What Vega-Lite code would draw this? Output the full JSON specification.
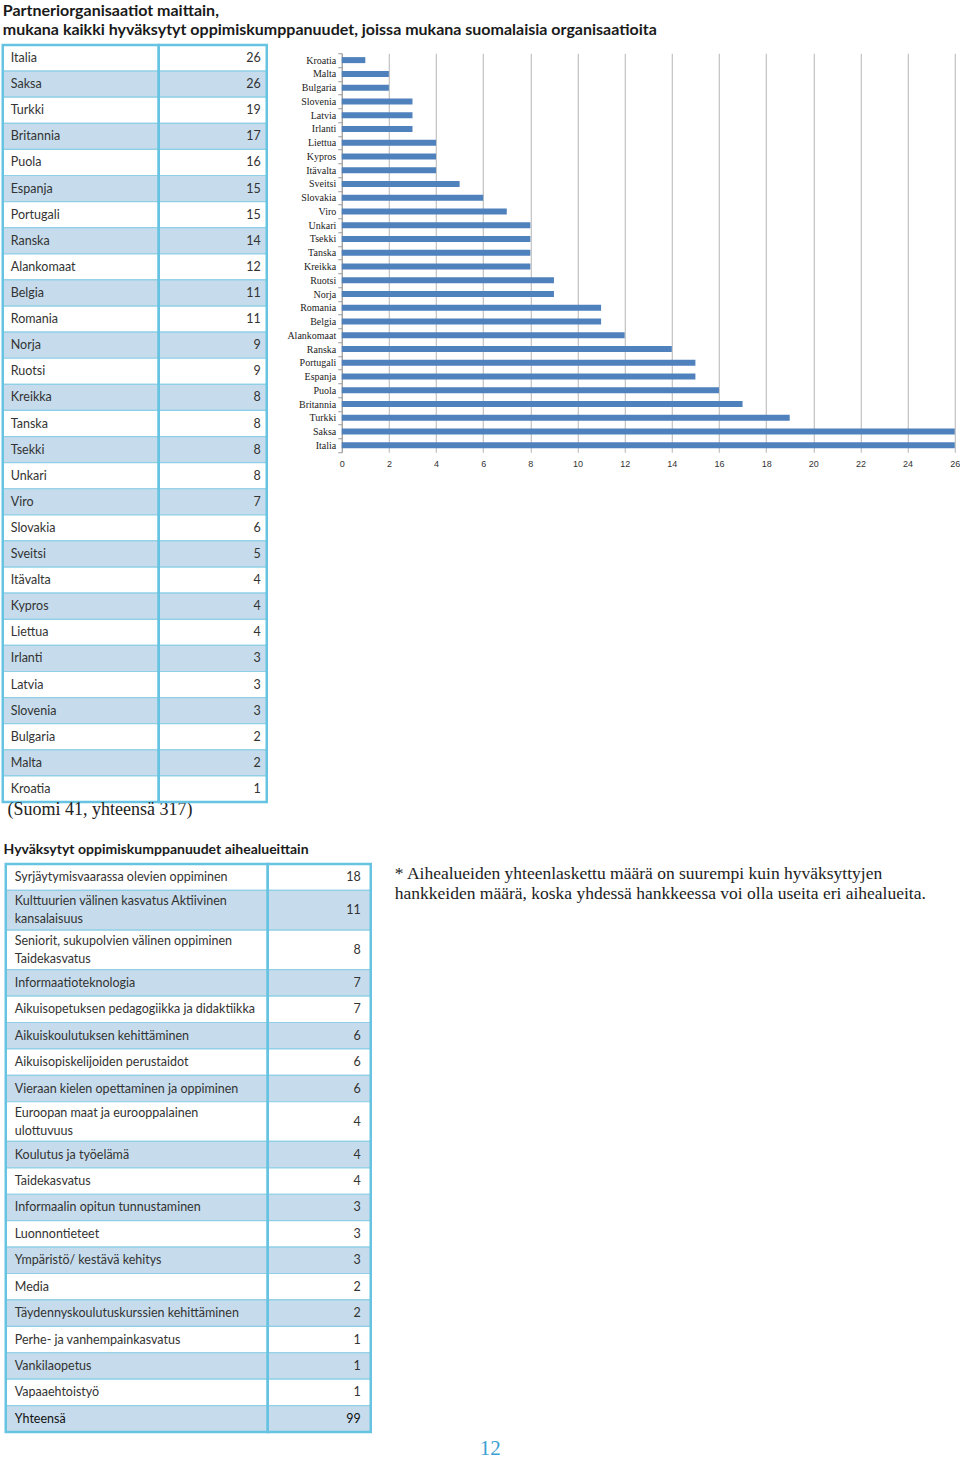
{
  "$schema": "https://vega.github.io/schema/vega-lite/v6.json",
  "padding": {"left": 0.75, "top": 2, "right": 0, "bottom": 0},
  "autosize": {"type": "pad"},
  "background": "white",
  "config": {
    "view": {"stroke": null},
    "font": "Lato",
    "text": {"font": "Lato", "fontSize": 12.5, "color": "#333333"}
  },
  "title": {
    "text": ["Partneriorganisaatiot maittain,", "mukana kaikki hyväksytyt oppimiskumppanuudet, joissa mukana suomalaisia organisaatioita"],
    "anchor": "start",
    "frame": "group",
    "font": "Lato",
    "fontSize": 16,
    "fontWeight": "bold",
    "color": "#1a1a1a",
    "lineHeight": 19.5,
    "offset": 1.5
  },
  "datasets": {
    "countries": [
      {"country": "Italia", "n": 26},
      {"country": "Saksa", "n": 26},
      {"country": "Turkki", "n": 19},
      {"country": "Britannia", "n": 17},
      {"country": "Puola", "n": 16},
      {"country": "Espanja", "n": 15},
      {"country": "Portugali", "n": 15},
      {"country": "Ranska", "n": 14},
      {"country": "Alankomaat", "n": 12},
      {"country": "Belgia", "n": 11},
      {"country": "Romania", "n": 11},
      {"country": "Norja", "n": 9},
      {"country": "Ruotsi", "n": 9},
      {"country": "Kreikka", "n": 8},
      {"country": "Tanska", "n": 8},
      {"country": "Tsekki", "n": 8},
      {"country": "Unkari", "n": 8},
      {"country": "Viro", "n": 7},
      {"country": "Slovakia", "n": 6},
      {"country": "Sveitsi", "n": 5},
      {"country": "Itävalta", "n": 4},
      {"country": "Kypros", "n": 4},
      {"country": "Liettua", "n": 4},
      {"country": "Irlanti", "n": 3},
      {"country": "Latvia", "n": 3},
      {"country": "Slovenia", "n": 3},
      {"country": "Bulgaria", "n": 2},
      {"country": "Malta", "n": 2},
      {"country": "Kroatia", "n": 1}
    ],
    "topics": [
      {"label": "Syrjäytymisvaarassa olevien oppiminen", "value": 18},
      {"label": "Kulttuurien välinen kasvatus Aktiivinen\nkansalaisuus", "value": 11},
      {"label": "Seniorit, sukupolvien välinen oppiminen\nTaidekasvatus", "value": 8},
      {"label": "Informaatioteknologia", "value": 7},
      {"label": "Aikuisopetuksen pedagogiikka ja didaktiikka", "value": 7},
      {"label": "Aikuiskoulutuksen kehittäminen", "value": 6},
      {"label": "Aikuisopiskelijoiden perustaidot", "value": 6},
      {"label": "Vieraan kielen opettaminen ja oppiminen", "value": 6},
      {"label": "Euroopan maat ja eurooppalainen\nulottuvuus", "value": 4},
      {"label": "Koulutus ja työelämä", "value": 4},
      {"label": "Taidekasvatus", "value": 4},
      {"label": "Informaalin opitun tunnustaminen", "value": 3},
      {"label": "Luonnontieteet", "value": 3},
      {"label": "Ympäristö/ kestävä kehitys", "value": 3},
      {"label": "Media", "value": 2},
      {"label": "Täydennyskoulutuskurssien kehittäminen", "value": 2},
      {"label": "Perhe- ja vanhempainkasvatus", "value": 1},
      {"label": "Vankilaopetus", "value": 1},
      {"label": "Vapaaehtoistyö", "value": 1},
      {"label": "Yhteensä", "value": 99}
    ],
    "footnote": [
      {"line": "* Aihealueiden yhteenlaskettu määrä on suurempi kuin hyväksyttyjen"},
      {"line": "hankkeiden määrä, koska yhdessä hankkeessa voi olla useita eri aihealueita."}
    ],
    "blank": [{"k": 1}]
  },
  "spacing": 22,
  "vconcat": [
    {
      "spacing": 18,
      "hconcat": [
        {
          "bounds": "flush",
          "spacing": 0,
          "hconcat": [
            {
              "width": 156,
              "height": 757,
              "title": {"text": "(Suomi 41, yhteensä 317)", "orient": "bottom", "anchor": "start", "dx": 6, "offset": -2, "font": "Liberation Serif", "fontSize": 18, "fontWeight": "normal", "color": "#222222"},
              "layer": [
                {
                  "data": {"name": "countries"},
                  "transform": [{"window": [{"op": "row_number", "as": "idx"}]}],
                  "mark": {"type": "rect", "stroke": "#8fd0e6", "strokeWidth": 1.2},
                  "encoding": {
                    "y": {"field": "country", "type": "nominal", "sort": null, "axis": null, "scale": {"paddingInner": 0, "paddingOuter": 0}},
                    "x": {"value": 0},
                    "x2": {"value": "width"},
                    "fill": {"condition": {"test": "datum.idx % 2 == 0", "value": "#c6dcec"}, "value": "#ffffff"}
                  }
                },
                {
                  "data": {"name": "countries"},
                  "mark": {"type": "text", "align": "left", "baseline": "middle", "dx": 8},
                  "encoding": {
                    "y": {"field": "country", "type": "nominal", "sort": null, "axis": null},
                    "x": {"value": 0},
                    "text": {"field": "country"}
                  }
                },
                {
                  "data": {"name": "blank"},
                  "mark": {"type": "rect", "fill": null, "fillOpacity": 0, "stroke": "#66c3e2", "strokeWidth": 2.5},
                  "encoding": {"x": {"value": 0}, "x2": {"value": "width"}, "y": {"value": 0}, "y2": {"value": "height"}}
                }
              ]
            },
            {
              "width": 108,
              "height": 757,
              "layer": [
                {
                  "data": {"name": "countries"},
                  "transform": [{"window": [{"op": "row_number", "as": "idx"}]}],
                  "mark": {"type": "rect", "stroke": "#8fd0e6", "strokeWidth": 1.2},
                  "encoding": {
                    "y": {"field": "country", "type": "nominal", "sort": null, "axis": null, "scale": {"paddingInner": 0, "paddingOuter": 0}},
                    "x": {"value": 0},
                    "x2": {"value": "width"},
                    "fill": {"condition": {"test": "datum.idx % 2 == 0", "value": "#c6dcec"}, "value": "#ffffff"}
                  }
                },
                {
                  "data": {"name": "countries"},
                  "mark": {"type": "text", "align": "right", "baseline": "middle", "dx": -6},
                  "encoding": {
                    "y": {"field": "country", "type": "nominal", "sort": null, "axis": null},
                    "x": {"value": "width"},
                    "text": {"field": "n"}
                  }
                },
                {
                  "data": {"name": "blank"},
                  "mark": {"type": "rect", "fill": null, "fillOpacity": 0, "stroke": "#66c3e2", "strokeWidth": 2.5},
                  "encoding": {"x": {"value": 0}, "x2": {"value": "width"}, "y": {"value": 0}, "y2": {"value": "height"}}
                }
              ]
            }
          ]
        },
        {
          "bounds": "flush",
          "spacing": 7.25,
          "vconcat": [
            {
              "width": 1,
              "height": 1,
              "data": {"name": "blank"},
              "mark": {"type": "text"},
              "encoding": {"text": {"value": ""}}
            },
            {
              "width": 613,
              "height": 399,
              "data": {"name": "countries"},
              "transform": [{"window": [{"op": "row_number", "as": "idx"}]}],
              "mark": {"type": "bar", "color": "#4f81bd", "size": 6},
              "encoding": {
                "x": {
                  "field": "n",
                  "type": "quantitative",
                  "scale": {"domain": [0, 26], "nice": false},
                  "axis": {"values": [0, 2, 4, 6, 8, 10, 12, 14, 16, 18, 20, 22, 24, 26], "title": null, "domain": false, "ticks": false, "grid": true, "gridColor": "#b5b5b5", "gridWidth": 1, "labelFont": "Liberation Sans", "labelFontSize": 9, "labelColor": "#333333", "labelPadding": 7, "labelFlush": false}
                },
                "y": {
                  "field": "country",
                  "type": "nominal",
                  "sort": {"field": "idx", "op": "min", "order": "descending"},
                  "scale": {"paddingInner": 0, "paddingOuter": 0},
                  "axis": {"title": null, "domainColor": "#9a9a9a", "tickColor": "#9a9a9a", "tickSize": 4, "tickBand": "extent", "labelFont": "Liberation Serif", "labelFontSize": 10, "labelColor": "#222222", "labelPadding": 2, "grid": false}
                }
              }
            }
          ]
        }
      ]
    },
    {
      "bounds": "flush",
      "spacing": 0,
      "hconcat": [
        {
          "width": 3,
          "height": 1,
          "data": {"name": "blank"},
          "mark": {"type": "text"},
          "encoding": {"text": {"value": ""}}
        },
        {
          "width": 262,
          "height": 568,
          "title": {"text": "Hyväksytyt oppimiskumppanuudet aihealueittain", "anchor": "start", "dx": -1, "offset": 6, "font": "Lato", "fontSize": 14, "fontWeight": "bold", "color": "#1a1a1a"},
          "layer": [
            {
              "data": {"name": "topics"},
              "transform": [
                {"window": [{"op": "row_number", "as": "idx"}]},
                {"calculate": "indexof(datum.label, '\\n') >= 0 ? 3 : 2", "as": "units"},
                {"window": [{"op": "sum", "field": "units", "as": "end"}], "frame": [null, 0]},
                {"calculate": "datum.end - datum.units", "as": "start"}
              ],
              "mark": {"type": "rect", "stroke": "#8fd0e6", "strokeWidth": 1.2},
              "encoding": {
                "y": {"field": "start", "type": "quantitative", "axis": null, "scale": {"reverse": true, "nice": false, "zero": true}},
                "y2": {"field": "end"},
                "x": {"value": 0},
                "x2": {"value": "width"},
                "fill": {"condition": {"test": "datum.idx % 2 == 0", "value": "#c6dcec"}, "value": "#ffffff"}
              }
            },
            {
              "data": {"name": "topics"},
              "transform": [
                {"calculate": "indexof(datum.label, '\\n') >= 0 ? 3 : 2", "as": "units"},
                {"window": [{"op": "sum", "field": "units", "as": "end"}], "frame": [null, 0]},
                {"calculate": "datum.end - datum.units / 2 - (datum.units == 3 ? 0.68 : 0)", "as": "ty"}
              ],
              "mark": {"type": "text", "align": "left", "baseline": "middle", "dx": 9, "lineBreak": "\n", "lineHeight": 18},
              "encoding": {
                "y": {"field": "ty", "type": "quantitative", "axis": null},
                "x": {"value": 0},
                "text": {"field": "label"},
                "fontWeight": {"condition": {"test": "datum.label == 'Yhteensä'", "value": "bold"}, "value": "normal"},
                "color": {"condition": {"test": "datum.label == 'Yhteensä'", "value": "#111111"}, "value": "#333333"}
              }
            },
            {
              "data": {"name": "blank"},
              "mark": {"type": "rect", "fill": null, "fillOpacity": 0, "stroke": "#66c3e2", "strokeWidth": 2.5},
              "encoding": {"x": {"value": 0}, "x2": {"value": "width"}, "y": {"value": 0}, "y2": {"value": "height"}}
            }
          ]
        },
        {
          "width": 103,
          "height": 568,
          "layer": [
            {
              "data": {"name": "topics"},
              "transform": [
                {"window": [{"op": "row_number", "as": "idx"}]},
                {"calculate": "indexof(datum.label, '\\n') >= 0 ? 3 : 2", "as": "units"},
                {"window": [{"op": "sum", "field": "units", "as": "end"}], "frame": [null, 0]},
                {"calculate": "datum.end - datum.units", "as": "start"}
              ],
              "mark": {"type": "rect", "stroke": "#8fd0e6", "strokeWidth": 1.2},
              "encoding": {
                "y": {"field": "start", "type": "quantitative", "axis": null, "scale": {"reverse": true, "nice": false, "zero": true}},
                "y2": {"field": "end"},
                "x": {"value": 0},
                "x2": {"value": "width"},
                "fill": {"condition": {"test": "datum.idx % 2 == 0", "value": "#c6dcec"}, "value": "#ffffff"}
              }
            },
            {
              "data": {"name": "topics"},
              "transform": [
                {"calculate": "indexof(datum.label, '\\n') >= 0 ? 3 : 2", "as": "units"},
                {"window": [{"op": "sum", "field": "units", "as": "end"}], "frame": [null, 0]},
                {"calculate": "datum.end - datum.units / 2", "as": "mid"}
              ],
              "mark": {"type": "text", "align": "right", "baseline": "middle", "dx": -10},
              "encoding": {
                "y": {"field": "mid", "type": "quantitative", "axis": null},
                "x": {"value": "width"},
                "text": {"field": "value"},
                "fontWeight": {"condition": {"test": "datum.label == 'Yhteensä'", "value": "bold"}, "value": "normal"},
                "color": {"condition": {"test": "datum.label == 'Yhteensä'", "value": "#111111"}, "value": "#333333"}
              }
            },
            {
              "data": {"name": "blank"},
              "mark": {"type": "rect", "fill": null, "fillOpacity": 0, "stroke": "#66c3e2", "strokeWidth": 2.5},
              "encoding": {"x": {"value": 0}, "x2": {"value": "width"}, "y": {"value": 0}, "y2": {"value": "height"}}
            }
          ]
        },
        {
          "width": 24,
          "height": 1,
          "data": {"name": "blank"},
          "mark": {"type": "text"},
          "encoding": {"text": {"value": ""}}
        },
        {
          "width": 540,
          "height": 40,
          "data": {"name": "footnote"},
          "title": {"text": "12", "orient": "bottom", "anchor": "start", "dx": 85, "offset": 534, "font": "Liberation Serif", "fontSize": 21, "fontWeight": "normal", "color": "#3d9fd3"},
          "mark": {"type": "text", "align": "left", "baseline": "middle", "font": "Liberation Serif", "fontSize": 17.5, "color": "#222222"},
          "encoding": {
            "y": {"field": "line", "type": "nominal", "sort": null, "axis": null, "scale": {"paddingInner": 0, "paddingOuter": 0}},
            "x": {"value": 0},
            "text": {"field": "line"}
          }
        }
      ]
    }
  ]
}
